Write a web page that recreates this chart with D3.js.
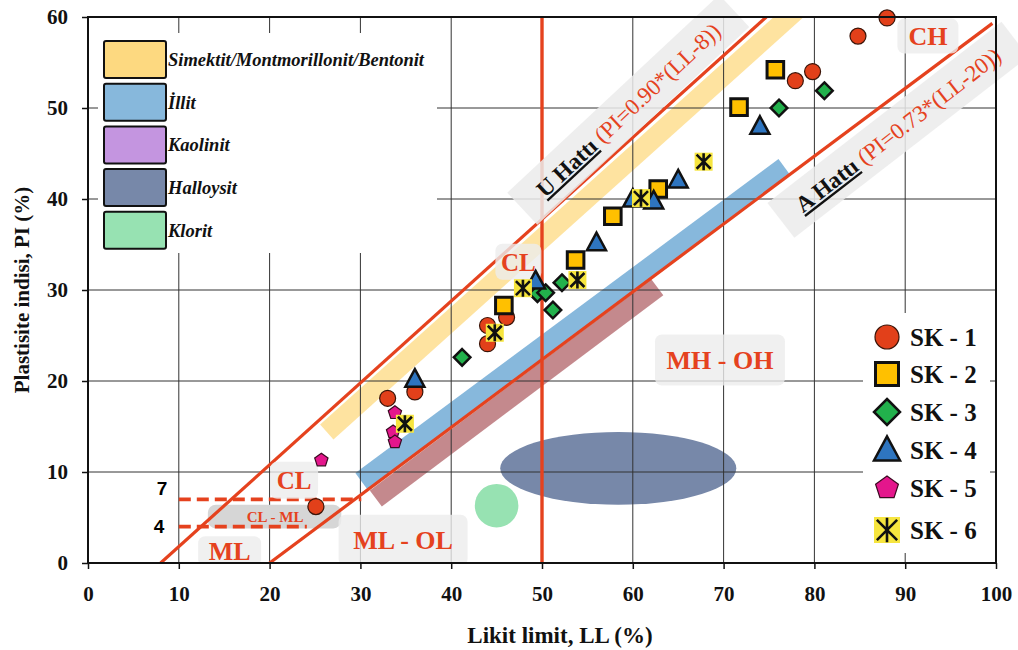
<!DOCTYPE html>
<meta charset="utf-8">
<script src="https://cdnjs.cloudflare.com/ajax/libs/d3/7.8.5/d3.min.js"></script>
<style>
  body { margin: 0; background: #fff; }
  text { font-family: "Liberation Serif", "Times New Roman", serif; font-weight: bold; }
</style>
<div id="chart"></div>
<script>

// axis ticks
var xTicks = [0, 10, 20, 30, 40, 50, 60, 70, 80, 90, 100];
var yTicks = [0, 10, 20, 30, 40, 50, 60];

// samples, [LL, PI]
var sk1 = [[25.1, 6.2], [33.0, 18.1], [36.0, 18.8], [44.0, 26.1], [44.0, 24.1], [46.1, 27.0],
           [77.9, 53.0], [79.8, 54.0], [84.8, 57.9], [88.0, 59.9]];
var sk2 = [[45.8, 28.3], [53.7, 33.3], [57.8, 38.1], [62.8, 41.1], [71.7, 50.1], [75.7, 54.2]];
var sk3 = [[41.2, 22.6], [49.5, 29.6], [50.4, 29.7], [51.2, 27.8], [52.2, 30.8], [76.1, 50.0], [81.1, 51.9]];
var sk4 = [[36.0, 20.2], [49.3, 31.0], [56.0, 35.2], [60.0, 40.0], [62.3, 39.8], [65.0, 42.1], [74.0, 48.0]];
var sk5 = [[25.7, 11.3], [33.8, 16.5], [33.6, 14.4], [33.8, 13.3]];
var sk6 = [[34.9, 15.3], [44.8, 25.3], [47.9, 30.2], [53.9, 31.1], [60.9, 40.1], [67.8, 44.1]];
var seriesNames = ["SK - 1", "SK - 2", "SK - 3", "SK - 4", "SK - 5", "SK - 6"];

// clay mineral zones
var zoneNames = ["Simektit/Montmorillonit/Bentonit", "İllit", "Kaolinit", "Halloysit", "Klorit"];
var smectiteBand = [[26.3, 14.4], [79.4, 62.0]];
var illiteBand = [[30.1, 9.0], [76.7, 43.5]];
var kaoliniteBand = [[31.7, 7.1], [62.7, 30.3]];
var halloysiteZone = [58.4, 10.4, 13.0, 4.0];   // LL, PI, half width (LL), half height (PI)
var chloriteZone = [45.0, 6.3, 2.4];            // LL, PI, radius (LL)

// chart lines
var uLine = [[8, 0], [74.7, 60]];
var aLine = [[20, 0], [99.6, 59.3]];
var llLine = [[50, 0], [50, 60]];
var clmlTop = [[10, 7], [30.1, 7]];
var clmlBottom = [[10, 4], [24.1, 4]];

var red = "#e5421e";
var zoneColors = ["#fdd980", "#87b8dc", "#c495e0", "#7788a9", "#97e2b2"];
var bandColors = ["#fdd980", "#87b8dc", "#c4898d"];
var bandOpacity = [0.75, 1, 1];

var width = 1018, height = 650;
var svg = d3.select("#chart").append("svg")
    .attr("width", width)
    .attr("height", height);

var x = d3.scaleLinear().domain([0, 100]).range([88, 996]);
var y = d3.scaleLinear().domain([0, 60]).range([563, 17]);

svg.append("clipPath").attr("id", "plotclip")
  .append("rect")
    .attr("x", x(0)).attr("y", y(60))
    .attr("width", x(100) - x(0)).attr("height", y(0) - y(60));

var plot = svg.append("g").attr("clip-path", "url(#plotclip)");

// mineral bands
plot.selectAll(".band")
  .data([smectiteBand, illiteBand, kaoliniteBand])
  .enter().append("line")
    .attr("x1", function(d) { return x(d[0][0]); })
    .attr("y1", function(d) { return y(d[0][1]); })
    .attr("x2", function(d) { return x(d[1][0]); })
    .attr("y2", function(d) { return y(d[1][1]); })
    .attr("stroke", function(d, i) { return bandColors[i]; })
    .attr("stroke-opacity", function(d, i) { return bandOpacity[i]; })
    .attr("stroke-width", 20);

plot.append("ellipse")
    .attr("cx", x(halloysiteZone[0]))
    .attr("cy", y(halloysiteZone[1]))
    .attr("rx", x(halloysiteZone[2]) - x(0))
    .attr("ry", y(0) - y(halloysiteZone[3]))
    .attr("fill", zoneColors[3]);

plot.append("circle")
    .attr("cx", x(chloriteZone[0]))
    .attr("cy", y(chloriteZone[1]))
    .attr("r", x(chloriteZone[2]) - x(0))
    .attr("fill", zoneColors[4]);

// grid
plot.selectAll(".gx").data(xTicks.slice(1, -1)).enter().append("line")
    .attr("x1", function(d) { return x(d); }).attr("x2", function(d) { return x(d); })
    .attr("y1", y(0)).attr("y2", y(60))
    .attr("stroke", "#333").attr("stroke-width", 1);
plot.selectAll(".gy").data(yTicks.slice(1, -1)).enter().append("line")
    .attr("y1", function(d) { return y(d); }).attr("y2", function(d) { return y(d); })
    .attr("x1", x(0)).attr("x2", x(100))
    .attr("stroke", "#333").attr("stroke-width", 1);

// grey strip of CL-ML zone
plot.append("rect")
    .attr("x", x(13.2)).attr("y", y(6.4))
    .attr("width", x(27.9) - x(13.2)).attr("height", y(3.8) - y(6.4))
    .attr("rx", 8)
    .attr("fill", "#d6d6d6");

// red lines
function drawLine(pts, w, dash) {
  plot.append("line")
      .attr("x1", x(pts[0][0])).attr("y1", y(pts[0][1]))
      .attr("x2", x(pts[1][0])).attr("y2", y(pts[1][1]))
      .attr("stroke", red)
      .attr("stroke-width", w)
      .attr("stroke-dasharray", dash || null);
}
drawLine(uLine, 3.2);
drawLine(aLine, 3.2);
drawLine(llLine, 3.4);
drawLine(clmlTop, 3.8, "12,6");
drawLine(clmlBottom, 3.8, "12,6");

// zone labels in grey boxes
function zoneLabel(ll, pi, txt, size, w, h) {
  var g = plot.append("g").attr("transform", "translate(" + x(ll) + "," + y(pi) + ")");
  if (w) {
    g.append("rect")
        .attr("x", -w / 2).attr("y", -h / 2)
        .attr("width", w).attr("height", h)
        .attr("rx", 7)
        .attr("fill", "#ececec")
        .attr("fill-opacity", 0.8);
  }
  g.append("text")
      .attr("text-anchor", "middle")
      .attr("dy", "0.35em")
      .attr("fill", red)
      .style("font-size", size + "px")
      .text(txt);
}
zoneLabel(92.5, 57.9, "CH", 26, 61, 35);
zoneLabel(47.4, 33.1, "CL", 25, 46, 36);
zoneLabel(69.6, 22.3, "MH - OH", 26, 130, 51);
zoneLabel(22.7, 9.1, "CL", 25, 48, 37);
zoneLabel(15.6, 1.3, "ML", 26, 63, 30);
zoneLabel(34.7, 2.5, "ML - OL", 26, 129, 51);
zoneLabel(20.6, 5.1, "CL - ML", 15);

// rotated line labels
function lineLabel(ll, pi, line, name, eq, w) {
  var ang = Math.atan2(y(line[1][1]) - y(line[0][1]), x(line[1][0]) - x(line[0][0])) * 180 / Math.PI;
  var g = svg.append("g")
      .attr("transform", "translate(" + x(ll) + "," + y(pi) + ") rotate(" + (ang - 1) + ")");
  g.append("rect")
      .attr("x", -w / 2).attr("y", -22)
      .attr("width", w).attr("height", 44)
      .attr("fill", "#ebebeb")
      .attr("fill-opacity", 0.85);
  var t = g.append("text")
      .attr("text-anchor", "middle")
      .attr("dy", "0.35em")
      .style("font-size", "23px");
  t.append("tspan").attr("fill", "#111").style("text-decoration", "underline").text(name);
  t.append("tspan").attr("fill", red).style("font-weight", "normal").text(" (" + eq + ")");
}
lineLabel(59.5, 49.8, uLine, "U Hattı", "PI=0.90*(LL-8)", 290);
lineLabel(89.2, 47.6, aLine, "A Hattı", "PI=0.73*(LL-20)", 296);

// mineral legend
var mleg = svg.append("g");
mleg.append("rect").attr("x", 98).attr("y", 33).attr("width", 339).attr("height", 220).attr("fill", "#fff");
zoneNames.forEach(function(n, i) {
  var top = 41 + i * 42.7;
  mleg.append("rect")
      .attr("x", 104).attr("y", top)
      .attr("width", 62).attr("height", 37)
      .attr("rx", 2)
      .attr("fill", zoneColors[i])
      .attr("stroke", "#111").attr("stroke-width", 2);
  mleg.append("text")
      .attr("x", 168).attr("y", top + 25)
      .style("font-size", "18.5px")
      .style("font-style", "italic")
      .attr("fill", "#111")
      .text(n);
});

// markers
var markerStyle = [
  {shape: "circle", fill: "#e2401a", stroke: "#3a1408", sw: 1.2},
  {shape: "square", fill: "#ffc000", stroke: "#111", sw: 3},
  {shape: "diamond", fill: "#22b14c", stroke: "#111", sw: 2.5},
  {shape: "triangle", fill: "#2e75c0", stroke: "#111", sw: 2.5},
  {shape: "pentagon", fill: "#e4168c", stroke: "#3a0a20", sw: 1.2},
  {shape: "star", fill: "#f6e53f", stroke: "#111", sw: 2.6}
];

function shapePath(shape, r) {
  if (shape === "circle") return d3.symbol(d3.symbolCircle, Math.PI * r * r)();
  if (shape === "square") return "M" + (-r) + "," + (-r) + "h" + 2 * r + "v" + 2 * r + "h" + (-2 * r) + "Z";
  if (shape === "diamond") return "M0," + (-r) + "L" + r + ",0L0," + r + "L" + (-r) + ",0Z";
  if (shape === "triangle") return "M0," + (-r * 1.05) + "L" + r + "," + (r * 0.8) + "L" + (-r) + "," + (r * 0.8) + "Z";
  if (shape === "pentagon") {
    var p = d3.range(5).map(function(k) {
      var a = -Math.PI / 2 + k * 2 * Math.PI / 5;
      return [r * Math.cos(a), r * Math.sin(a)];
    });
    return "M" + p.join("L") + "Z";
  }
  return "";
}

function drawMarker(g, st, cx, cy, r) {
  var m = g.append("g").attr("transform", "translate(" + cx + "," + cy + ")");
  if (st.shape === "star") {
    m.append("rect").attr("x", -r).attr("y", -r).attr("width", 2 * r).attr("height", 2 * r).attr("fill", st.fill);
    var a = r * 0.95, b = r * 0.78;
    m.append("path")
        .attr("d", "M0," + (-a) + "V" + a + "M" + (-b) + "," + (-b) + "L" + b + "," + b + "M" + b + "," + (-b) + "L" + (-b) + "," + b)
        .attr("stroke", st.stroke).attr("stroke-width", st.sw).attr("fill", "none");
  } else {
    m.append("path")
        .attr("d", shapePath(st.shape, r))
        .attr("fill", st.fill)
        .attr("stroke", st.stroke)
        .attr("stroke-width", st.sw)
        .attr("stroke-linejoin", "miter");
  }
}

var plotSizes = [8, 8.3, 8.3, 9.5, 7, 9];
var legendSizes = [12, 11.5, 13, 13, 12, 13];
var points = svg.append("g");
[sk1, sk2, sk3, sk4, sk5, sk6].forEach(function(s, i) {
  s.forEach(function(d) {
    drawMarker(points, markerStyle[i], x(d[0]), y(d[1]), plotSizes[i]);
  });
});

// sample legend
var sleg = svg.append("g");
sleg.append("rect").attr("x", 863).attr("y", 313).attr("width", 127).attr("height", 240).attr("fill", "#fff");
var rowY = [337, 374, 412, 450, 488, 530];
seriesNames.forEach(function(n, i) {
  drawMarker(sleg, markerStyle[i], 887, rowY[i], legendSizes[i]);
  sleg.append("text")
      .attr("x", 910).attr("y", rowY[i])
      .attr("dy", "0.35em")
      .style("font-size", "25px")
      .attr("fill", "#111")
      .text(n);
});

// small numbers at the dashed lines
svg.append("text").attr("x", 162).attr("y", y(7) - 4).attr("text-anchor", "middle")
    .style("font-family", "Liberation Sans, Arial, sans-serif").style("font-size", "19px").text("7");
svg.append("text").attr("x", 159).attr("y", y(4) + 6).attr("text-anchor", "middle")
    .style("font-family", "Liberation Sans, Arial, sans-serif").style("font-size", "19px").text("4");

// frame and axes
svg.append("rect")
    .attr("x", x(0)).attr("y", y(60))
    .attr("width", x(100) - x(0)).attr("height", y(0) - y(60))
    .attr("fill", "none").attr("stroke", "#111").attr("stroke-width", 2);

var xAxis = svg.append("g")
    .attr("transform", "translate(0," + y(0) + ")")
    .call(d3.axisBottom(x).tickValues(xTicks).tickSize(6).tickPadding(17));
var yAxis = svg.append("g")
    .attr("transform", "translate(" + x(0) + ",0)")
    .call(d3.axisLeft(y).tickValues(yTicks).tickSize(6).tickPadding(14));
[xAxis, yAxis].forEach(function(a) {
  a.select(".domain").remove();
  a.selectAll(".tick line").attr("stroke", "#111").attr("stroke-width", 1.5);
  a.selectAll(".tick text")
      .attr("fill", "#111")
      .style("font-family", "Liberation Serif, Times New Roman, serif")
      .style("font-weight", "bold")
      .style("font-size", "21px");
});

// axis titles
svg.append("text")
    .attr("x", 560).attr("y", 643)
    .attr("text-anchor", "middle")
    .style("font-size", "23px")
    .attr("fill", "#111")
    .text("Likit limit, LL (%)");

svg.append("text")
    .attr("transform", "translate(29,290) rotate(-90)")
    .attr("text-anchor", "middle")
    .style("font-size", "21px")
    .attr("fill", "#111")
    .text("Plastisite indisi, PI (%)");

</script>
